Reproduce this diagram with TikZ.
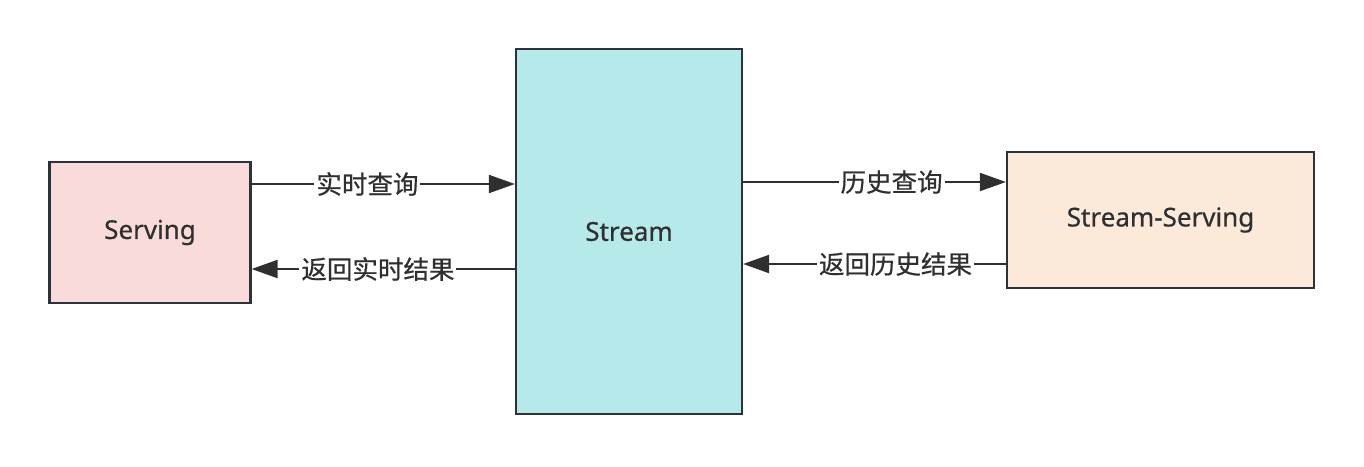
\documentclass[tikz,border=0pt]{standalone}
\usepackage{fontspec}
\setmainfont[FakeBold=0.5]{Noto Sans}
\newfontfamily\cjk[FakeBold=0.6]{Noto Sans CJK SC}
\usetikzlibrary{arrows.meta,positioning,calc}
\definecolor{linegray}{HTML}{2B3238}
\definecolor{textgray}{HTML}{2F2F2F}
\definecolor{servpink}{HTML}{F9DBDA}
\definecolor{streamcyan}{HTML}{B6E9EA}
\definecolor{histpeach}{HTML}{FBE9DA}

\begin{document}
\begin{tikzpicture}[x=1pt,y=-1pt,>={Triangle[length=26pt,width=18pt]},
  box/.style={draw=linegray,line width=2.2pt,text=textgray,inner sep=0pt,font=\fontsize{26}{31}\selectfont}]
  \useasboundingbox (0,0) rectangle (1364,466);
  \node[box,fill=servpink,minimum width=201pt,minimum height=141pt]   (serving)       at (150,232.5)  {Serving};
  \node[box,fill=streamcyan,minimum width=226pt,minimum height=365pt] (stream)        at (629,231.5)  {Stream};
  \node[box,fill=histpeach,minimum width=307pt,minimum height=136pt]  (streamserving) at (1160.5,220) {Stream-Serving};
  \coordinate (rtq) at ([yshift=48.5pt]serving.east);
  \coordinate (rtr) at ([yshift=-36.5pt]serving.east);
  \coordinate (hiq) at ([yshift=38pt]streamserving.west);
  \coordinate (hir) at ([yshift=-44pt]streamserving.west);
\tikzset{flow/.style={->,draw=textgray,line width=2pt}}
\tikzset{every node/.style={fill=white,text=textgray,inner sep=2pt,font=\cjk\fontsize{25.5}{30}\selectfont}}
\path (rtq)             edge [flow] node[pos=0.44] {实时查询}     (rtq -| stream.west)
      (rtr -| stream.west) edge [flow] node[pos=0.52] {返回实时结果} (rtr)
      (hiq -| stream.east) edge [flow] node[pos=0.565] {历史查询}   (hiq)
      (hir)             edge [flow] node[pos=0.42] {返回历史结果} (hir -| stream.east);
\end{tikzpicture}
\end{document}
